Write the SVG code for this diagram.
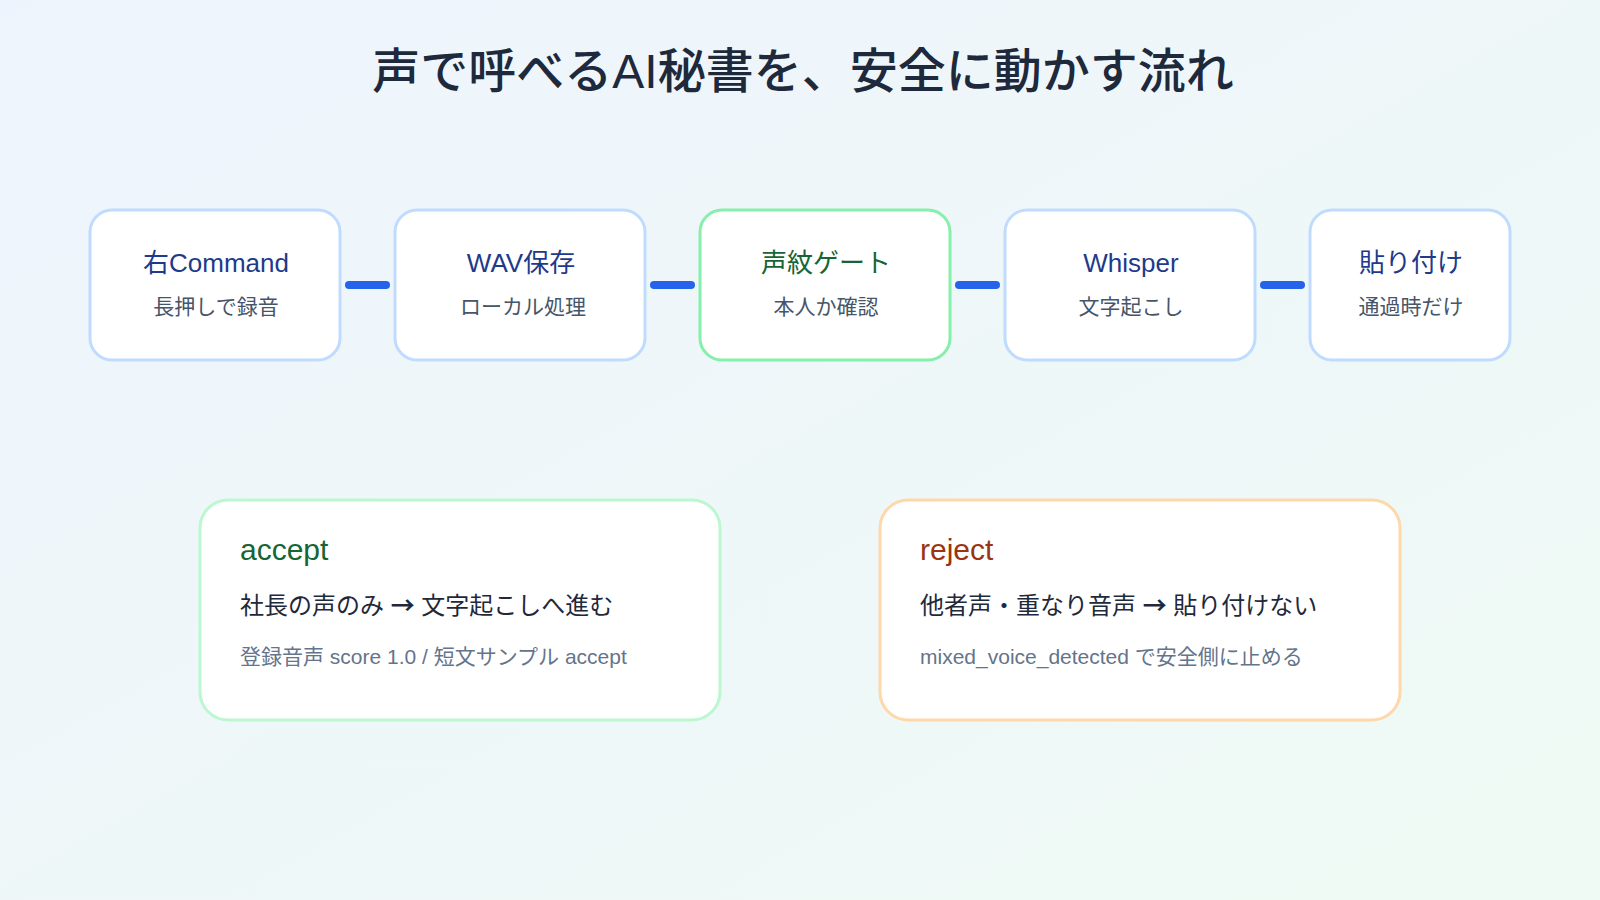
<svg xmlns="http://www.w3.org/2000/svg" width="1600" height="900" viewBox="0 0 1600 900">
  <defs>
    <linearGradient id="bg" x1="0" y1="0" x2="1" y2="1">
      <stop offset="0" stop-color="#eef4fd"/>
      <stop offset="1" stop-color="#effaf4"/>
    </linearGradient>
    <style>
      text { font-family: "Liberation Sans", "Noto Sans CJK JP", sans-serif; }
      .title { font-size: 48px; font-weight: 500; fill: #1e293b; text-anchor: middle; }
      .node rect { fill: #ffffff; stroke: #bfdbfe; stroke-width: 3; }
      .node.gate rect { stroke: #86efac; }
      .ntitle { font-size: 26px; fill: #1e3a8a; text-anchor: middle; }
      .gate .ntitle { fill: #166534; }
      .nsub { font-size: 21px; fill: #475569; text-anchor: middle; }
      .link { stroke: #2563eb; stroke-width: 8; stroke-linecap: round; fill: none; }
      .card rect { fill: #ffffff; stroke-width: 3; }
      .card.ok rect { stroke: #bbf7d0; }
      .card.ng rect { stroke: #fed7aa; }
      .chead { font-size: 30px; }
      .ok .chead { fill: #166534; }
      .ng .chead { fill: #9a3412; }
      .cmain { font-size: 24px; fill: #1e293b; }
      .arr { font-family: "Noto Sans CJK JP", sans-serif; font-weight: 700; }
      .cnote { font-size: 21px; fill: #64748b; }
    </style>
  </defs>

  <rect width="1600" height="900" fill="url(#bg)"/>

  <text class="title" x="803" y="88">声で呼べるAI秘書を、安全に動かす流れ</text>

  <!-- pipeline links -->
  <g id="connectors">
    <line class="link" x1="349" y1="285" x2="386" y2="285"/>
    <line class="link" x1="654" y1="285" x2="691" y2="285"/>
    <line class="link" x1="959" y1="285" x2="996" y2="285"/>
    <line class="link" x1="1264" y1="285" x2="1301" y2="285"/>
  </g>

  <!-- pipeline steps -->
  <g id="step-record" class="node">
    <rect x="90" y="210" width="250" height="150" rx="22"/>
    <text class="ntitle" x="216" y="272">右Command</text>
    <text class="nsub" x="216" y="314">長押しで録音</text>
  </g>
  <g id="step-wav" class="node">
    <rect x="395" y="210" width="250" height="150" rx="22"/>
    <text class="ntitle" x="521" y="272">WAV保存</text>
    <text class="nsub" x="523" y="314">ローカル処理</text>
  </g>
  <g id="step-gate" class="node gate">
    <rect x="700" y="210" width="250" height="150" rx="22"/>
    <text class="ntitle" x="826" y="272">声紋ゲート</text>
    <text class="nsub" x="826" y="314">本人か確認</text>
  </g>
  <g id="step-whisper" class="node">
    <rect x="1005" y="210" width="250" height="150" rx="22"/>
    <text class="ntitle" x="1131" y="272">Whisper</text>
    <text class="nsub" x="1131" y="314">文字起こし</text>
  </g>
  <g id="step-paste" class="node">
    <rect x="1310" y="210" width="200" height="150" rx="22"/>
    <text class="ntitle" x="1411" y="272">貼り付け</text>
    <text class="nsub" x="1411" y="314">通過時だけ</text>
  </g>

  <!-- gate outcomes -->
  <g id="card-accept" class="card ok">
    <rect x="200" y="500" width="520" height="220" rx="28"/>
    <text class="chead" x="240" y="560">accept</text>
    <text class="cmain" x="240" y="614">社長の声のみ <tspan class="arr">→</tspan> 文字起こしへ進む</text>
    <text class="cnote" x="240" y="664">登録音声 score 1.0 / 短文サンプル accept</text>
  </g>
  <g id="card-reject" class="card ng">
    <rect x="880" y="500" width="520" height="220" rx="28"/>
    <text class="chead" x="920" y="560">reject</text>
    <text class="cmain" x="920" y="614">他者声・重なり音声 <tspan class="arr">→</tspan> 貼り付けない</text>
    <text class="cnote" x="920" y="664">mixed_voice_detected で安全側に止める</text>
  </g>
</svg>
